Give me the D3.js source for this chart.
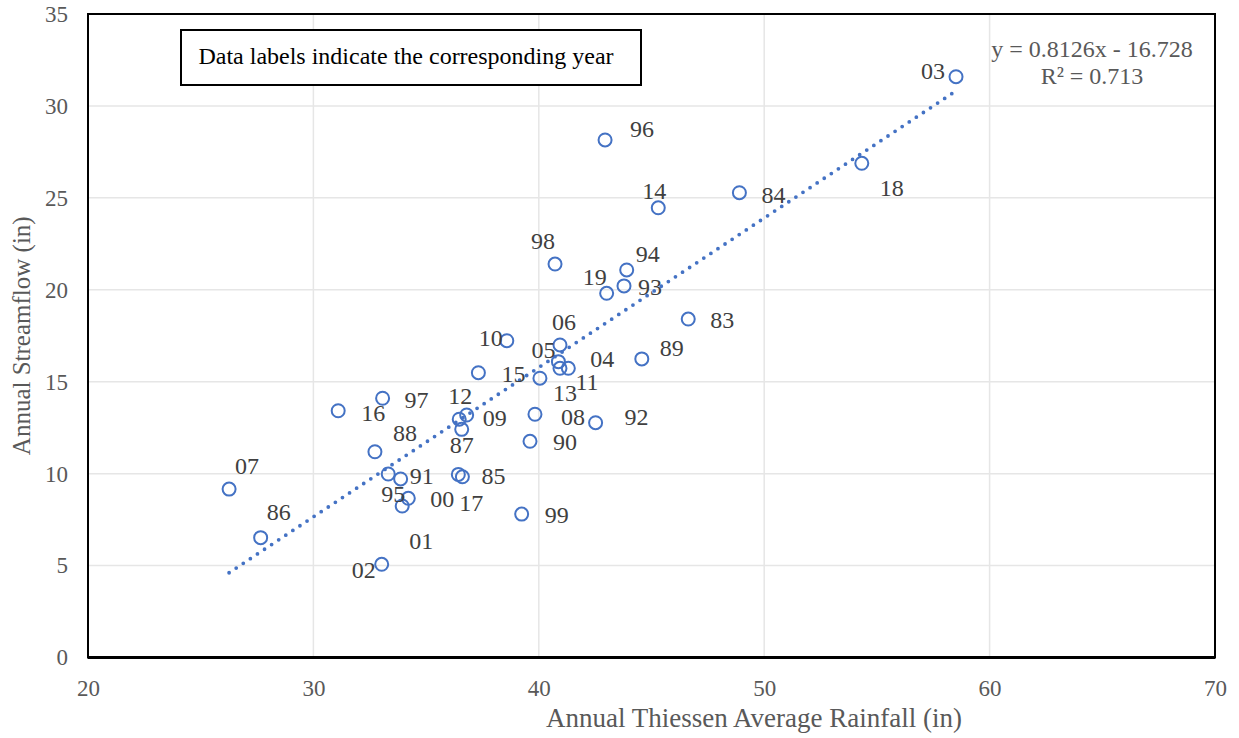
<!DOCTYPE html>
<html>
<head>
<meta charset="utf-8">
<script src="https://cdn.jsdelivr.net/npm/d3@7"></script>
<style>
  body { margin: 0; background: #fff; }
  svg { display: block; font-family: "Liberation Serif", "Times New Roman", serif; }
</style>
</head>
<body>
<div id="chart"></div>
<script>
// year labels, rainfall (x) and streamflow (y)
const years = ['03', '96', '14', '84', '18', '94', '93', '19', '98', '83', '89', '10', '06', '05', '04', '11',
  '15', '13', '97', '16', '12', '09', '87', '08', '92', '90', '88', '07', '95', '91', '17', '85', '00', '01',
  '99', '86', '02'];
const rainfall = [58.51, 42.94, 45.30, 48.90, 54.33, 43.90, 43.78, 43.01, 40.72, 46.63, 44.57, 38.58, 40.94,
  40.87, 41.31, 40.94, 37.32, 40.05, 33.07, 31.10, 36.47, 36.80, 36.58, 39.83, 42.52, 39.61, 32.73, 26.26,
  33.32, 33.87, 36.43, 36.61, 34.21, 33.94, 39.24, 27.66, 33.03];
const streamflow = [31.59, 28.15, 24.46, 25.28, 26.88, 21.08, 20.21, 19.81, 21.40, 18.41, 16.24, 17.23, 17.00,
  16.09, 15.73, 15.73, 15.49, 15.19, 14.10, 13.42, 12.96, 13.19, 12.41, 13.23, 12.77, 11.76, 11.19, 9.16,
  9.98, 9.71, 9.96, 9.83, 8.66, 8.24, 7.80, 6.52, 5.07];

const xTicks = [20, 30, 40, 50, 60, 70];
const yTicks = [0, 5, 10, 15, 20, 25, 30, 35];
const slope = 0.8126, intercept = -16.728;
const equation = 'y = 0.8126x - 16.728';
const rSquared = 'R² = 0.713';
const note = 'Data labels indicate the corresponding year';

// where each year label sits relative to its marker (px), as placed in the original
const labelNudge = {
  '03': [-23, -6], '96': [37, -11], '14': [-4, -17], '84': [34, 2], '18': [30, 25], '94': [21, -16],
  '93': [26, 1], '19': [-12, -16], '98': [-12, -23], '83': [34, 1], '89': [30, -11], '10': [-16, -3],
  '06': [4, -23], '05': [-15, -12], '04': [34, -9], '11': [27, 14], '15': [35, 1], '13': [25, 15],
  '97': [34, 2], '16': [35, 2], '12': [1, -23], '09': [28, 3], '87': [0, 16], '08': [38, 3],
  '92': [41, -6], '90': [35, 1], '88': [30, -19], '07': [18, -23], '95': [5, 20], '91': [21, -3],
  '17': [13, 29], '85': [31, -1], '00': [34, 1], '01': [19, 35], '99': [35, 1], '86': [18, -26],
  '02': [-18, 6]
};

const W = 1239, H = 738;
const margin = { top: 14, right: 24, bottom: 81, left: 88 };
const blue = '#4472c4', grey = '#595959';

const svg = d3.select('#chart').append('svg').attr('width', W).attr('height', H);

const x = d3.scaleLinear().domain([20, 70]).range([margin.left, W - margin.right]);
const y = d3.scaleLinear().domain([0, 35]).range([H - margin.bottom + 0.5, margin.top]);

const points = years.map((yr, i) => ({ yr, x: rainfall[i], y: streamflow[i] }));

// grid
const grid = svg.append('g').attr('class', 'grid');
grid.selectAll('line.v').data(xTicks.slice(1, -1)).join('line').attr('class', 'v')
  .attr('x1', d => x(d)).attr('x2', d => x(d))
  .attr('y1', y(0)).attr('y2', y(35))
  .attr('stroke', '#e6e6e6').attr('stroke-width', 1.5);
grid.selectAll('line.h').data(yTicks.slice(1, -1)).join('line').attr('class', 'h')
  .attr('x1', x(20)).attr('x2', x(70))
  .attr('y1', d => y(d)).attr('y2', d => y(d))
  .attr('stroke', '#e6e6e6').attr('stroke-width', 1.5);

// axes (tick text only, lines come from the frame)
const xAxis = svg.append('g')
  .attr('transform', `translate(0,${y(0)})`)
  .call(d3.axisBottom(x).tickValues(xTicks).tickSize(0).tickPadding(22));
xAxis.select('.domain').remove();
xAxis.selectAll('text').attr('fill', grey).attr('font-size', 23).attr('font-family', 'Liberation Serif');

const yAxis = svg.append('g')
  .attr('transform', `translate(${x(20)},0)`)
  .call(d3.axisLeft(y).tickValues(yTicks).tickSize(0).tickPadding(20));
yAxis.select('.domain').remove();
yAxis.selectAll('text').attr('fill', grey).attr('font-size', 23).attr('font-family', 'Liberation Serif');

// frame
svg.append('rect')
  .attr('x', x(20)).attr('y', y(35))
  .attr('width', x(70) - x(20)).attr('height', y(0) - y(35))
  .attr('fill', 'none').attr('stroke', '#000').attr('stroke-width', 2);
svg.append('line')
  .attr('x1', x(20)).attr('x2', x(70)).attr('y1', y(0)).attr('y2', y(0))
  .attr('stroke', '#000').attr('stroke-width', 3);

// axis titles
svg.append('text')
  .attr('x', 754).attr('y', 727)
  .attr('text-anchor', 'middle').attr('fill', grey).attr('font-size', 27)
  .text('Annual Thiessen Average Rainfall (in)');
svg.append('text')
  .attr('transform', `translate(30,${(y(0) + y(35)) / 2}) rotate(-90)`)
  .attr('text-anchor', 'middle').attr('fill', grey).attr('font-size', 25)
  .text('Annual Streamflow (in)');

// markers
svg.append('g').selectAll('circle').data(points).join('circle')
  .attr('cx', d => x(d.x)).attr('cy', d => y(d.y)).attr('r', 6.5)
  .attr('fill', 'none').attr('stroke', blue).attr('stroke-width', 2);

// linear trendline across the data range
const xr = d3.extent(rainfall);
svg.append('line')
  .attr('x1', x(xr[0])).attr('y1', y(slope * xr[0] + intercept))
  .attr('x2', x(xr[1])).attr('y2', y(slope * xr[1] + intercept))
  .attr('stroke', blue).attr('stroke-width', 3.8)
  .attr('stroke-linecap', 'round').attr('stroke-dasharray', '0 8.5');

// year labels
svg.append('g').selectAll('text').data(points).join('text')
  .attr('x', d => x(d.x) + labelNudge[d.yr][0])
  .attr('y', d => y(d.y) + labelNudge[d.yr][1])
  .attr('text-anchor', 'middle').attr('dominant-baseline', 'central')
  .attr('fill', '#404040').attr('font-size', 24)
  .text(d => d.yr);

// trendline equation
svg.append('text').attr('x', 1092).attr('y', 57)
  .attr('text-anchor', 'middle').attr('fill', grey).attr('font-size', 24).text(equation);
svg.append('text').attr('x', 1092).attr('y', 84)
  .attr('text-anchor', 'middle').attr('fill', grey).attr('font-size', 24).text(rSquared);

// note box
svg.append('rect').attr('x', 181).attr('y', 30).attr('width', 460).attr('height', 55)
  .attr('fill', '#fff').attr('stroke', '#000').attr('stroke-width', 2);
svg.append('text').attr('x', 406).attr('y', 56)
  .attr('text-anchor', 'middle').attr('dominant-baseline', 'central')
  .attr('fill', '#000').attr('font-size', 24).text(note);
</script>
</body>
</html>
